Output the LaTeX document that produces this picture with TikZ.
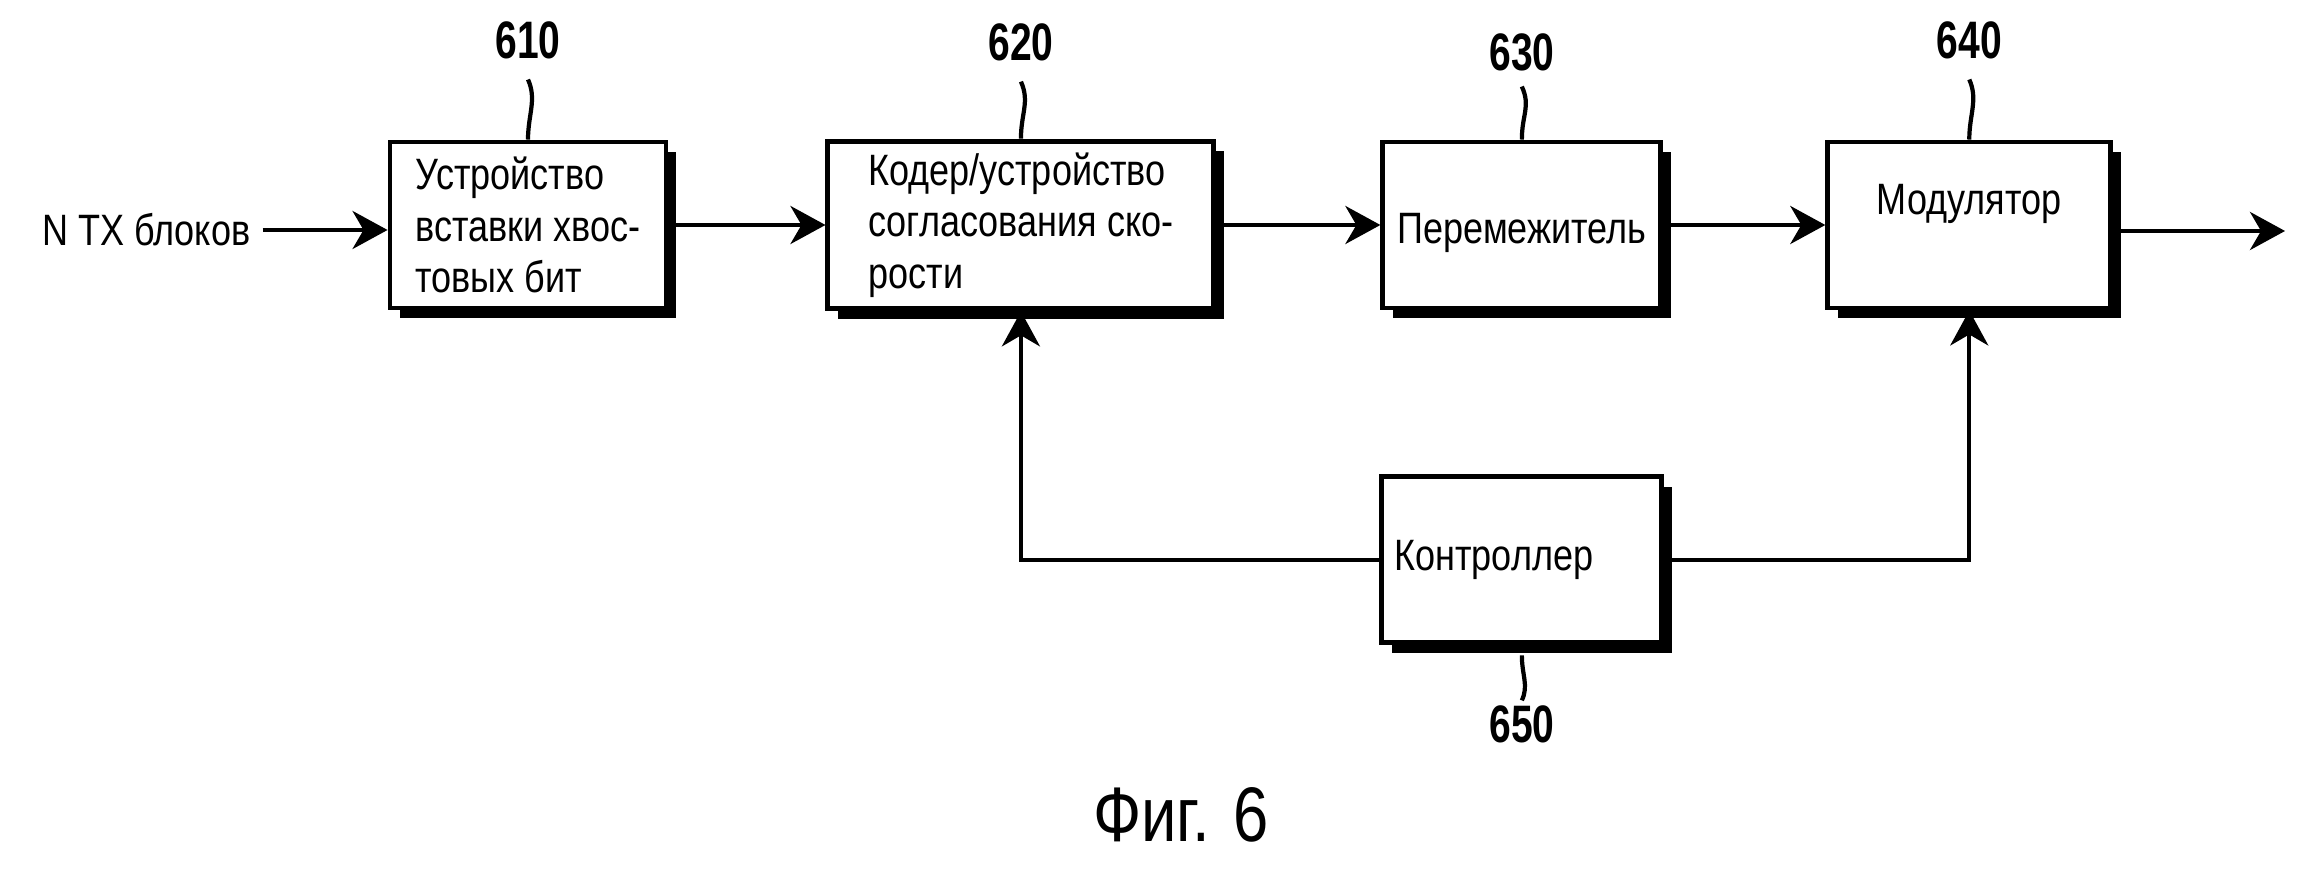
\documentclass[tikz,border=0pt]{standalone}
\usepackage{fontspec}
\setmainfont{Liberation Sans}[FakeStretch=0.82]
\newfontfamily\numfont{Liberation Sans}[FakeStretch=0.74]
\usetikzlibrary{
arrows.meta,
positioning,
shadows
}
\tikzset{
  blok/.style={draw, line width=1.4pt, fill=white, minimum height=1.66cm, align=left,
    drop shadow={shadow xshift=1mm, shadow yshift=-1mm, fill=black, opacity=1}},
  num/.style={font=\numfont\bfseries\fontsize{15}{16}\selectfont, inner sep=0pt}
}
\begin{document}
\begin{tikzpicture}[>={Stealth[length=3.5mm,width=3.8mm,inset=1.1mm]}, font=\fontsize{12.5}{14.6}\selectfont]
    \path[use as bounding box] (0,0) rectangle (23.04,-8.70);
    \node [blok, minimum width=2.76cm] (b610) at (5.28,-2.25) {Устройство\\вставки хвос-\\товых бит};
    \node [blok, minimum width=3.86cm, right=1.57cm of b610] (b620) {Кодер/устройство\\согласования ско-\\рости};
    \node [blok, minimum width=2.78cm, right=1.64cm of b620, text height=4.7mm] (b630) {Перемежитель};
    \node [blok, minimum width=2.83cm, right=1.62cm of b630, align=center, text depth=5.2mm] (b640) {Модулятор};
    \node [blok, minimum width=2.80cm, below=1.64cm of b630, text width=2.55cm] (b650) {Контроллер};
    \node [anchor=west] (ntx) at (0.30,-2.30) {N TX блоков};
    \coordinate (out) at (22.85,-2.31);
    \node [num, above=8mm of b610] (l610) {610};
    \node [num, above=7.7mm of b620] (l620) {620};
    \node [num, above=6.8mm of b630] (l630) {630};
    \node [num, above=8mm of b640] (l640) {640};
    \node [num, below=6mm of b650] (l650) {650};
    \node [font=\fontsize{22}{26}\selectfont] (cap) at (11.81,-8.15) {Фиг. 6};
    \draw[->,very thick] (ntx) -- (ntx -| b610.west);
    \draw[->,very thick] (b610) -- (b620);
    \draw[->,very thick] (b620) -- (b630);
    \draw[->,very thick] (b630) -- (b640);
    \draw[->,very thick] (b640.east |- out) -- (out);
    \draw[->,very thick] (b650) -| (b620);
    \draw[->,very thick] (b650) -| (b640);
    \draw[very thick] ([yshift=-2mm]l610.south) .. controls +(0.09,-0.2) and +(0,0.25) .. (b610.north);
    \draw[very thick] ([yshift=-2mm]l620.south) .. controls +(0.09,-0.2) and +(0,0.25) .. (b620.north);
    \draw[very thick] ([yshift=-1.5mm]l630.south) .. controls +(0.09,-0.2) and +(0,0.25) .. (b630.north);
    \draw[very thick] ([yshift=-2mm]l640.south) .. controls +(0.09,-0.2) and +(0,0.25) .. (b640.north);
    \draw[very thick] ([yshift=-1mm]b650.south) .. controls +(0,-0.2) and +(0.07,0.15) .. ([yshift=0.5mm]l650.north);
\end{tikzpicture}
\end{document}
